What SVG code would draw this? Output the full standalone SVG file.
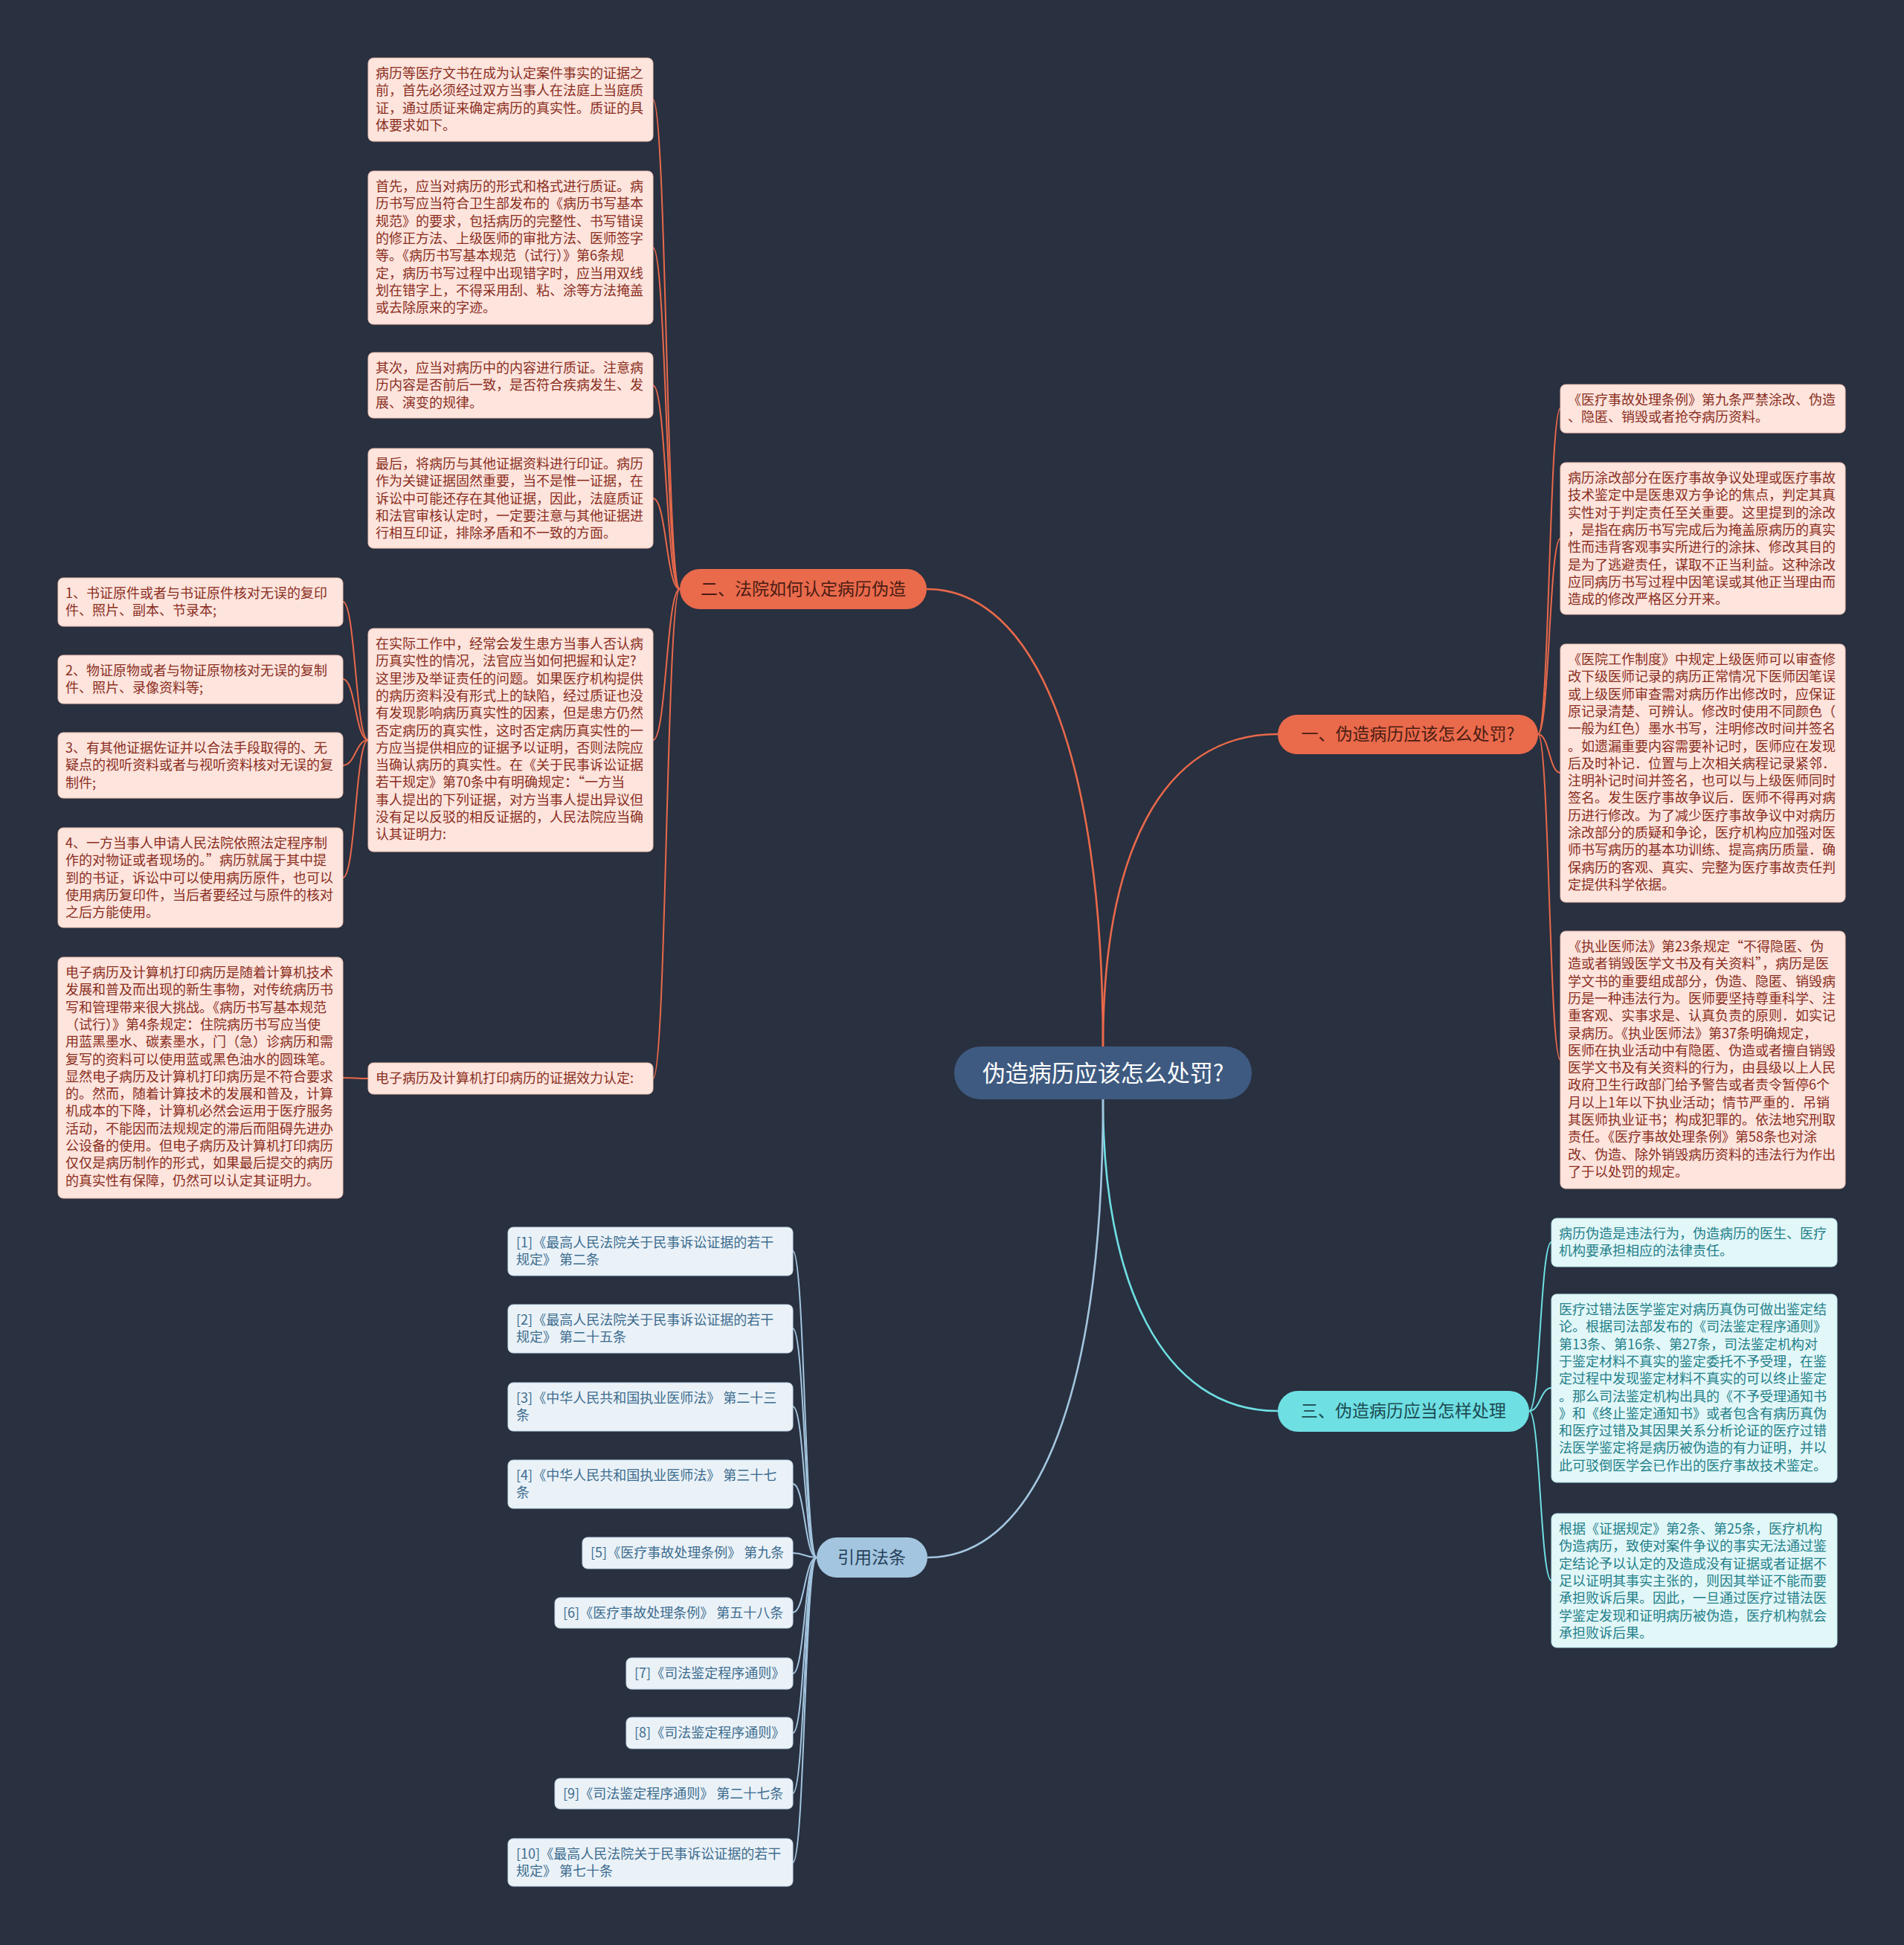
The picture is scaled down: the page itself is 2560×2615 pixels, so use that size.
<svg xmlns="http://www.w3.org/2000/svg" width="2560" height="2615" viewBox="0 0 2560 2615">
<style>
text{font-family:"Noto Sans CJK SC","Noto Sans",sans-serif;}
.lo rect{fill:#fde4dd;stroke:#f0c3b6;stroke-width:1}
.lo text{fill:#8a2e1e;font-size:18px}
.lc rect{fill:#e2f7f8;stroke:#b8e6ea;stroke-width:1}
.lc text{fill:#23808a;font-size:18px}
.lb rect{fill:#eaf2f8;stroke:#c4d8e8;stroke-width:1}
.lb text{fill:#3d6c8e;font-size:18px}
.bo rect{fill:#ea6a4c}
.bo text{fill:#4a1c12;font-size:23px;text-anchor:middle}
.bc rect{fill:#6edfe3}
.bc text{fill:#1c4a52;font-size:23px;text-anchor:middle}
.bb rect{fill:#a3c5df}
.bb text{fill:#27405a;font-size:23px;text-anchor:middle}
.ctr rect{fill:#3e5a80}
.ctr text{fill:#ffffff;font-size:31px;text-anchor:middle}
.co{fill:none;stroke:#e9694b;stroke-width:2}
.cc{fill:none;stroke:#6edfe3;stroke-width:2}
.cb{fill:none;stroke:#a3c5df;stroke-width:2}
.m{stroke-width:2.6}
</style>
<rect width="2560" height="2615" fill="#29303f"/>

<g id="connectors">
  <path class="co m" d="M1246 792 C1390 792 1483 1010 1483 1409"/>
  <path class="co m" d="M1483 1409 C1483 1150 1560 987 1718 987"/>
  <path class="cc m" d="M1483 1478 C1483 1720 1560 1897 1718 1897"/>
  <path class="cb m" d="M1483 1478 C1483 1860 1400 2094 1247 2094"/>
  <path class="co" d="M914 792 C896 792 896 134 878 134"/>
  <path class="co" d="M914 792 C896 792 896 333 878 333"/>
  <path class="co" d="M914 792 C896 792 896 518 878 518"/>
  <path class="co" d="M914 792 C896 792 896 670 878 670"/>
  <path class="co" d="M914 792 C896 792 896 995 878 995"/>
  <path class="co" d="M914 792 C896 792 896 1450 878 1450"/>
  <path class="co" d="M495 995 C478 995 478 809 461 809"/>
  <path class="co" d="M495 995 C478 995 478 913 461 913"/>
  <path class="co" d="M495 995 C478 995 478 1029 461 1029"/>
  <path class="co" d="M495 995 C478 995 478 1180 461 1180"/>
  <path class="co" d="M495 1450 C478 1450 478 1449 461 1449"/>
  <path class="co" d="M2068 987 C2083 987 2083 549 2098 549"/>
  <path class="co" d="M2068 987 C2083 987 2083 724 2098 724"/>
  <path class="co" d="M2068 987 C2083 987 2083 1039 2098 1039"/>
  <path class="co" d="M2068 987 C2083 987 2083 1425 2098 1425"/>
  <path class="cc" d="M2056 1897 C2071 1897 2071 1670 2086 1670"/>
  <path class="cc" d="M2056 1897 C2071 1897 2071 1866 2086 1866"/>
  <path class="cc" d="M2056 1897 C2071 1897 2071 2125 2086 2125"/>
  <path class="cb" d="M1098 2094 C1082 2094 1082 1682 1066 1682"/>
  <path class="cb" d="M1098 2094 C1082 2094 1082 1786 1066 1786"/>
  <path class="cb" d="M1098 2094 C1082 2094 1082 1891 1066 1891"/>
  <path class="cb" d="M1098 2094 C1082 2094 1082 1995 1066 1995"/>
  <path class="cb" d="M1098 2094 C1082 2094 1082 2088 1066 2088"/>
  <path class="cb" d="M1098 2094 C1082 2094 1082 2168 1066 2168"/>
  <path class="cb" d="M1098 2094 C1082 2094 1082 2250 1066 2250"/>
  <path class="cb" d="M1098 2094 C1082 2094 1082 2330 1066 2330"/>
  <path class="cb" d="M1098 2094 C1082 2094 1082 2411 1066 2411"/>
  <path class="cb" d="M1098 2094 C1082 2094 1082 2504 1066 2504"/>
</g>

<g id="center" class="ctr"><rect x="1283" y="1407" width="400" height="71" rx="35"/><text x="1483" y="1454">伪造病历应该怎么处罚?</text></g>

<g id="b2" class="bo"><rect x="914" y="765" width="332" height="54" rx="27"/><text x="1080" y="800">二、法院如何认定病历伪造</text></g>
<g id="b1" class="bo"><rect x="1718" y="961" width="350" height="53" rx="26"/><text x="1893" y="995">一、伪造病历应该怎么处罚?</text></g>
<g id="b3" class="bc"><rect x="1718" y="1870" width="338" height="55" rx="27"/><text x="1887" y="1905">三、伪造病历应当怎样处理</text></g>
<g id="b4" class="bb"><rect x="1098" y="2067" width="149" height="54" rx="27"/><text x="1172" y="2102">引用法条</text></g>

<g id="l1" class="lo"><rect x="495" y="78" width="383" height="112" rx="7"/><text y="105"><tspan x="505">病历等医疗文书在成为认定案件事实的证据之</tspan><tspan x="505" dy="23.3">前，首先必须经过双方当事人在法庭上当庭质</tspan><tspan x="505" dy="23.3">证，通过质证来确定病历的真实性。质证的具</tspan><tspan x="505" dy="23.3">体要求如下。</tspan></text></g>

<g id="l2" class="lo"><rect x="495" y="230" width="383" height="206" rx="7"/><text y="257"><tspan x="505">首先，应当对病历的形式和格式进行质证。病</tspan><tspan x="505" dy="23.3">历书写应当符合卫生部发布的《病历书写基本</tspan><tspan x="505" dy="23.3">规范》的要求，包括病历的完整性、书写错误</tspan><tspan x="505" dy="23.3">的修正方法、上级医师的审批方法、医师签字</tspan><tspan x="505" dy="23.3">等。《病历书写基本规范（试行）》第6条规</tspan><tspan x="505" dy="23.3">定，病历书写过程中出现错字时，应当用双线</tspan><tspan x="505" dy="23.3">划在错字上，不得采用刮、粘、涂等方法掩盖</tspan><tspan x="505" dy="23.3">或去除原来的字迹。</tspan></text></g>

<g id="l3" class="lo"><rect x="495" y="474" width="383" height="88" rx="7"/><text y="501"><tspan x="505">其次，应当对病历中的内容进行质证。注意病</tspan><tspan x="505" dy="23.3">历内容是否前后一致，是否符合疾病发生、发</tspan><tspan x="505" dy="23.3">展、演变的规律。</tspan></text></g>

<g id="l4" class="lo"><rect x="495" y="603" width="383" height="134" rx="7"/><text y="630"><tspan x="505">最后，将病历与其他证据资料进行印证。病历</tspan><tspan x="505" dy="23.3">作为关键证据固然重要，当不是惟一证据，在</tspan><tspan x="505" dy="23.3">诉讼中可能还存在其他证据，因此，法庭质证</tspan><tspan x="505" dy="23.3">和法官审核认定时，一定要注意与其他证据进</tspan><tspan x="505" dy="23.3">行相互印证，排除矛盾和不一致的方面。</tspan></text></g>

<g id="l5" class="lo"><rect x="495" y="845" width="383" height="300" rx="7"/><text y="872"><tspan x="505">在实际工作中，经常会发生患方当事人否认病</tspan><tspan x="505" dy="23.3">历真实性的情况，法官应当如何把握和认定?</tspan><tspan x="505" dy="23.3">这里涉及举证责任的问题。如果医疗机构提供</tspan><tspan x="505" dy="23.3">的病历资料没有形式上的缺陷，经过质证也没</tspan><tspan x="505" dy="23.3">有发现影响病历真实性的因素，但是患方仍然</tspan><tspan x="505" dy="23.3">否定病历的真实性，这时否定病历真实性的一</tspan><tspan x="505" dy="23.3">方应当提供相应的证据予以证明，否则法院应</tspan><tspan x="505" dy="23.3">当确认病历的真实性。在《关于民事诉讼证据</tspan><tspan x="505" dy="23.3">若干规定》第70条中有明确规定：“一方当</tspan><tspan x="505" dy="23.3">事人提出的下列证据，对方当事人提出异议但</tspan><tspan x="505" dy="23.3">没有足以反驳的相反证据的，人民法院应当确</tspan><tspan x="505" dy="23.3">认其证明力:</tspan></text></g>

<g id="l6" class="lo"><rect x="495" y="1429" width="383" height="42" rx="7"/><text y="1456"><tspan x="505">电子病历及计算机打印病历的证据效力认定:</tspan></text></g>

<g id="l5a" class="lo"><rect x="78" y="777" width="383" height="65" rx="7"/><text y="804"><tspan x="88">1、书证原件或者与书证原件核对无误的复印</tspan><tspan x="88" dy="23.3">件、照片、副本、节录本;</tspan></text></g>
<g id="l5b" class="lo"><rect x="78" y="881" width="383" height="65" rx="7"/><text y="908"><tspan x="88">2、物证原物或者与物证原物核对无误的复制</tspan><tspan x="88" dy="23.3">件、照片、录像资料等;</tspan></text></g>
<g id="l5c" class="lo"><rect x="78" y="985" width="383" height="88" rx="7"/><text y="1012"><tspan x="88">3、有其他证据佐证并以合法手段取得的、无</tspan><tspan x="88" dy="23.3">疑点的视听资料或者与视听资料核对无误的复</tspan><tspan x="88" dy="23.3">制件;</tspan></text></g>
<g id="l5d" class="lo"><rect x="78" y="1113" width="383" height="134" rx="7"/><text y="1140"><tspan x="88">4、一方当事人申请人民法院依照法定程序制</tspan><tspan x="88" dy="23.3">作的对物证或者现场的。”病历就属于其中提</tspan><tspan x="88" dy="23.3">到的书证，诉讼中可以使用病历原件，也可以</tspan><tspan x="88" dy="23.3">使用病历复印件，当后者要经过与原件的核对</tspan><tspan x="88" dy="23.3">之后方能使用。</tspan></text></g>

<g id="l6a" class="lo"><rect x="78" y="1287" width="383" height="324" rx="7"/><text y="1314"><tspan x="88">电子病历及计算机打印病历是随着计算机技术</tspan><tspan x="88" dy="23.3">发展和普及而出现的新生事物，对传统病历书</tspan><tspan x="88" dy="23.3">写和管理带来很大挑战。《病历书写基本规范</tspan><tspan x="88" dy="23.3">（试行）》第4条规定：住院病历书写应当使</tspan><tspan x="88" dy="23.3">用蓝黑墨水、碳素墨水，门（急）诊病历和需</tspan><tspan x="88" dy="23.3">复写的资料可以使用蓝或黑色油水的圆珠笔。</tspan><tspan x="88" dy="23.3">显然电子病历及计算机打印病历是不符合要求</tspan><tspan x="88" dy="23.3">的。然而，随着计算技术的发展和普及，计算</tspan><tspan x="88" dy="23.3">机成本的下降，计算机必然会运用于医疗服务</tspan><tspan x="88" dy="23.3">活动，不能因而法规规定的滞后而阻碍先进办</tspan><tspan x="88" dy="23.3">公设备的使用。但电子病历及计算机打印病历</tspan><tspan x="88" dy="23.3">仅仅是病历制作的形式，如果最后提交的病历</tspan><tspan x="88" dy="23.3">的真实性有保障，仍然可以认定其证明力。</tspan></text></g>

<g id="r1" class="lo"><rect x="2098" y="517" width="383" height="65" rx="7"/><text y="544"><tspan x="2108">《医疗事故处理条例》第九条严禁涂改、伪造</tspan><tspan x="2108" dy="23.3">、隐匿、销毁或者抢夺病历资料。</tspan></text></g>
<g id="r2" class="lo"><rect x="2098" y="622" width="383" height="204" rx="7"/><text y="649"><tspan x="2108">病历涂改部分在医疗事故争议处理或医疗事故</tspan><tspan x="2108" dy="23.3">技术鉴定中是医患双方争论的焦点，判定其真</tspan><tspan x="2108" dy="23.3">实性对于判定责任至关重要。这里提到的涂改</tspan><tspan x="2108" dy="23.3">，是指在病历书写完成后为掩盖原病历的真实</tspan><tspan x="2108" dy="23.3">性而违背客观事实所进行的涂抹、修改其目的</tspan><tspan x="2108" dy="23.3">是为了逃避责任，谋取不正当利益。这种涂改</tspan><tspan x="2108" dy="23.3">应同病历书写过程中因笔误或其他正当理由而</tspan><tspan x="2108" dy="23.3">造成的修改严格区分开来。</tspan></text></g>
<g id="r3" class="lo"><rect x="2098" y="866" width="383" height="347" rx="7"/><text y="893"><tspan x="2108">《医院工作制度》中规定上级医师可以审查修</tspan><tspan x="2108" dy="23.3">改下级医师记录的病历正常情况下医师因笔误</tspan><tspan x="2108" dy="23.3">或上级医师审查需对病历作出修改时，应保证</tspan><tspan x="2108" dy="23.3">原记录清楚、可辨认。修改时使用不同颜色（</tspan><tspan x="2108" dy="23.3">一般为红色）墨水书写，注明修改时间并签名</tspan><tspan x="2108" dy="23.3">。如遗漏重要内容需要补记时，医师应在发现</tspan><tspan x="2108" dy="23.3">后及时补记．位置与上次相关病程记录紧邻．</tspan><tspan x="2108" dy="23.3">注明补记时间并签名，也可以与上级医师同时</tspan><tspan x="2108" dy="23.3">签名。发生医疗事故争议后．医师不得再对病</tspan><tspan x="2108" dy="23.3">历进行修改。为了减少医疗事故争议中对病历</tspan><tspan x="2108" dy="23.3">涂改部分的质疑和争论，医疗机构应加强对医</tspan><tspan x="2108" dy="23.3">师书写病历的基本功训练、提高病历质量．确</tspan><tspan x="2108" dy="23.3">保病历的客观、真实、完整为医疗事故责任判</tspan><tspan x="2108" dy="23.3">定提供科学依据。</tspan></text></g>
<g id="r4" class="lo"><rect x="2098" y="1252" width="383" height="346" rx="7"/><text y="1279"><tspan x="2108">《执业医师法》第23条规定“不得隐匿、伪</tspan><tspan x="2108" dy="23.3">造或者销毁医学文书及有关资料”，病历是医</tspan><tspan x="2108" dy="23.3">学文书的重要组成部分，伪造、隐匿、销毁病</tspan><tspan x="2108" dy="23.3">历是一种违法行为。医师要坚持尊重科学、注</tspan><tspan x="2108" dy="23.3">重客观、实事求是、认真负责的原则．如实记</tspan><tspan x="2108" dy="23.3">录病历。《执业医师法》第37条明确规定，</tspan><tspan x="2108" dy="23.3">医师在执业活动中有隐匿、伪造或者擅自销毁</tspan><tspan x="2108" dy="23.3">医学文书及有关资料的行为，由县级以上人民</tspan><tspan x="2108" dy="23.3">政府卫生行政部门给予警告或者责令暂停6个</tspan><tspan x="2108" dy="23.3">月以上1年以下执业活动；情节严重的．吊销</tspan><tspan x="2108" dy="23.3">其医师执业证书；构成犯罪的。依法地究刑取</tspan><tspan x="2108" dy="23.3">责任。《医疗事故处理条例》第58条也对涂</tspan><tspan x="2108" dy="23.3">改、伪造、除外销毁病历资料的违法行为作出</tspan><tspan x="2108" dy="23.3">了于以处罚的规定。</tspan></text></g>

<g id="c1" class="lc"><rect x="2086" y="1638" width="384" height="65" rx="7"/><text y="1665"><tspan x="2096">病历伪造是违法行为，伪造病历的医生、医疗</tspan><tspan x="2096" dy="23.3">机构要承担相应的法律责任。</tspan></text></g>
<g id="c2" class="lc"><rect x="2086" y="1740" width="384" height="253" rx="7"/><text y="1767"><tspan x="2096">医疗过错法医学鉴定对病历真伪可做出鉴定结</tspan><tspan x="2096" dy="23.3">论。根据司法部发布的《司法鉴定程序通则》</tspan><tspan x="2096" dy="23.3">第13条、第16条、第27条，司法鉴定机构对</tspan><tspan x="2096" dy="23.3">于鉴定材料不真实的鉴定委托不予受理，在鉴</tspan><tspan x="2096" dy="23.3">定过程中发现鉴定材料不真实的可以终止鉴定</tspan><tspan x="2096" dy="23.3">。那么司法鉴定机构出具的《不予受理通知书</tspan><tspan x="2096" dy="23.3">》和《终止鉴定通知书》或者包含有病历真伪</tspan><tspan x="2096" dy="23.3">和医疗过错及其因果关系分析论证的医疗过错</tspan><tspan x="2096" dy="23.3">法医学鉴定将是病历被伪造的有力证明，并以</tspan><tspan x="2096" dy="23.3">此可驳倒医学会已作出的医疗事故技术鉴定。</tspan></text></g>
<g id="c3" class="lc"><rect x="2086" y="2035" width="384" height="180" rx="7"/><text y="2062"><tspan x="2096">根据《证据规定》第2条、第25条，医疗机构</tspan><tspan x="2096" dy="23.3">伪造病历，致使对案件争议的事实无法通过鉴</tspan><tspan x="2096" dy="23.3">定结论予以认定的及造成没有证据或者证据不</tspan><tspan x="2096" dy="23.3">足以证明其事实主张的，则因其举证不能而要</tspan><tspan x="2096" dy="23.3">承担败诉后果。因此，一旦通过医疗过错法医</tspan><tspan x="2096" dy="23.3">学鉴定发现和证明病历被伪造，医疗机构就会</tspan><tspan x="2096" dy="23.3">承担败诉后果。</tspan></text></g>

<g id="ref1" class="lb"><rect x="683" y="1650" width="383" height="65" rx="7"/><text y="1677"><tspan x="694">[1]《最高人民法院关于民事诉讼证据的若干</tspan><tspan x="694" dy="23.3">规定》 第二条</tspan></text></g>
<g id="ref2" class="lb"><rect x="683" y="1754" width="383" height="65" rx="7"/><text y="1781"><tspan x="694">[2]《最高人民法院关于民事诉讼证据的若干</tspan><tspan x="694" dy="23.3">规定》 第二十五条</tspan></text></g>
<g id="ref3" class="lb"><rect x="683" y="1859" width="383" height="65" rx="7"/><text y="1886"><tspan x="694">[3]《中华人民共和国执业医师法》 第二十三</tspan><tspan x="694" dy="23.3">条</tspan></text></g>
<g id="ref4" class="lb"><rect x="683" y="1963" width="383" height="65" rx="7"/><text y="1990"><tspan x="694">[4]《中华人民共和国执业医师法》 第三十七</tspan><tspan x="694" dy="23.3">条</tspan></text></g>
<g id="ref5" class="lb"><rect x="783" y="2067" width="283" height="42" rx="7"/><text x="794" y="2094">[5]《医疗事故处理条例》 第九条</text></g>
<g id="ref6" class="lb"><rect x="746" y="2148" width="320" height="41" rx="7"/><text x="757" y="2175">[6]《医疗事故处理条例》 第五十八条</text></g>
<g id="ref7" class="lb"><rect x="842" y="2229" width="224" height="42" rx="7"/><text x="853" y="2256">[7]《司法鉴定程序通则》</text></g>
<g id="ref8" class="lb"><rect x="842" y="2309" width="224" height="42" rx="7"/><text x="853" y="2336">[8]《司法鉴定程序通则》</text></g>
<g id="ref9" class="lb"><rect x="746" y="2391" width="320" height="41" rx="7"/><text x="757" y="2418">[9]《司法鉴定程序通则》 第二十七条</text></g>
<g id="ref10" class="lb"><rect x="683" y="2472" width="383" height="64" rx="7"/><text y="2499"><tspan x="694">[10]《最高人民法院关于民事诉讼证据的若干</tspan><tspan x="694" dy="23.3">规定》 第七十条</tspan></text></g>
</svg>
